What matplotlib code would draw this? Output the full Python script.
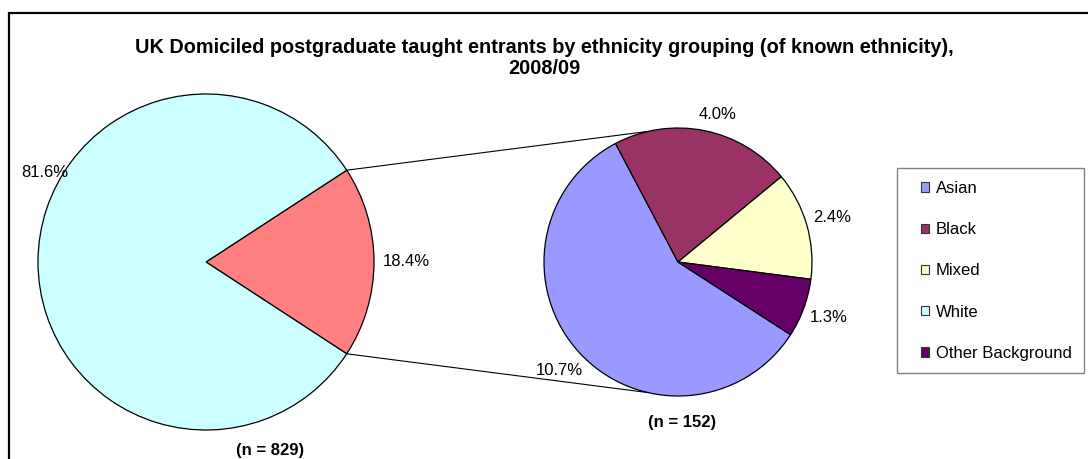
import numpy as np
import matplotlib.pyplot as plt
from matplotlib.patches import Patch, Rectangle

# main pie: the "other" group and White
main_labels = ['Other groups', 'White']
main_vals = [18.4, 81.6]
main_colors = ['#FF8080', '#CCFFFF']

# secondary pie, share of all entrants
sub_labels = ['Asian', 'Black', 'Mixed', 'Other Background']
sub_vals = [10.7, 4.0, 2.4, 1.3]
sub_colors = ['#9999FF', '#993366', '#FFFFCC', '#660066']

legend_labels = ['Asian', 'Black', 'Mixed', 'White', 'Other Background']
legend_colors = ['#9999FF', '#993366', '#FFFFCC', '#CCFFFF', '#660066']

n_main = 829
n_sub = 152
title = ('UK Domiciled postgraduate taught entrants by ethnicity grouping (of known ethnicity),\n'
         '2008/09')

plt.rcParams['font.family'] = ['Liberation Sans', 'DejaVu Sans']

W, H = 1088, 459
fig = plt.figure(figsize=(W / 100, H / 100), dpi=100)
ax = fig.add_axes([0, 0, 1, 1])

wp = dict(edgecolor='black', linewidth=0.9)
fs = 12

def polar(c, r, deg):
    a = np.deg2rad(deg)
    return c[0] + r * np.cos(a), c[1] + r * np.sin(a)

c1, r1 = (206, H - 262), 168
half = main_vals[0] / 100 * 180
w1, t1 = ax.pie(main_vals, colors=main_colors, startangle=-half, center=c1,
                radius=r1, wedgeprops=wp, labels=['%.1f%%' % v for v in main_vals],
                labeldistance=1.19, textprops=dict(fontsize=fs))
t1[0].set_ha('center')
# Excel puts the big label at the upper left
t1[1].set_position(polar(c1, 1.1 * r1, 151))
t1[1].set_ha('center')

c2, r2 = (678, H - 262), 134
frac_asian = sub_vals[0] / sum(sub_vals) * 360
start2 = 117.8 + frac_asian
w2, t2, p2 = ax.pie(sub_vals, colors=sub_colors, startangle=start2, counterclock=False,
                    center=c2, radius=r2, wedgeprops=wp,
                    autopct=lambda p: '%.1f%%' % (p * sum(sub_vals) / 100),
                    pctdistance=1.2, textprops=dict(fontsize=fs))
for t in p2:
    t.set_va('center')
p2[1].set_position(polar(c2, 1.14 * r2, 75))

ax.set_xlim(0, W)
ax.set_ylim(0, H)
ax.set_aspect('equal')
ax.axis('off')

# chart frame (runs off right and bottom)
ax.add_patch(Rectangle((9, -5), W, H - 12.5 + 5, fill=False, ec='black', lw=1.6))

# connector lines
for s in (1, -1):
    x0, y0 = polar(c1, r1, s * half)
    x1, y1 = polar(c2, r2, s * 103)
    ax.plot([x0, x1], [y0, y1], color='black', lw=0.8)

ax.text(270, H - 451, '(n = %d)' % n_main, ha='center', va='center',
        fontsize=fs, fontweight='bold')
ax.text(682, H - 423, '(n = %d)' % n_sub, ha='center', va='center',
        fontsize=fs, fontweight='bold')

ax.text(544, H - 58, title, ha='center', va='center', fontsize=14.3,
        fontweight='bold', linespacing=1.1)

# legend box
ax.add_patch(Rectangle((897, H - 373), 1084 - 897, 373 - 168, fill=False,
                       ec='#808080', lw=1.0))
handles = [Patch(facecolor=c, edgecolor='#333333', lw=0.8) for c in legend_colors]
leg = ax.legend(handles, legend_labels, loc='upper left',
                bbox_to_anchor=(921 / W, 1 - 181 / H),
                fontsize=fs, frameon=False,
                handlelength=0.5, handleheight=0.5, handletextpad=0.4,
                labelspacing=1.57, borderpad=0, borderaxespad=0)

fig.savefig('out.png', dpi=100)
